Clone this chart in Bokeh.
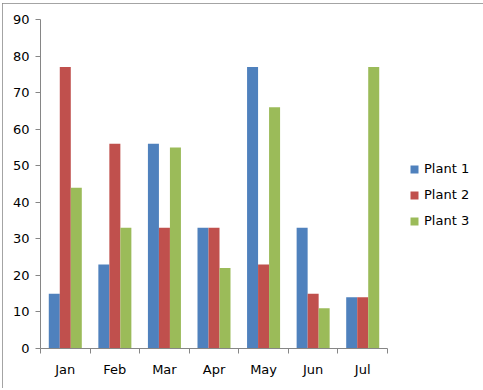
from bokeh.plotting import figure
from bokeh.models import ColumnDataSource, FixedTicker, Legend, LegendItem, Range1d
from bokeh.transform import dodge
from bokeh.embed import file_html
from bokeh.resources import INLINE

months = ["Jan", "Feb", "Mar", "Apr", "May", "Jun", "Jul"]
plant1 = [15, 23, 56, 33, 77, 33, 14]
plant2 = [77, 56, 33, 33, 23, 15, 14]
plant3 = [44, 33, 55, 22, 66, 11, 77]
series_names = ["Plant 1", "Plant 2", "Plant 3"]
colors = ["#4F81BD", "#C0504D", "#9BBB59"]
y_ticks = list(range(0, 100, 10))

xc = [i + 0.5 for i in range(len(months))]
src = ColumnDataSource(dict(x=xc, p1=plant1, p2=plant2, p3=plant3))

FONT = "DejaVu Sans"

p = figure(frame_width=347, frame_height=329,
           min_border_left=38, min_border_right=95, min_border_top=16, min_border_bottom=40,
           x_range=Range1d(0, len(months)), y_range=Range1d(0, 90),
           output_backend="svg", toolbar_location=None,
           background_fill_color="white", border_fill_color="white")
p.styles = {"outline": "1px solid #868686", "outline-offset": "-1px", "margin": "3px 0 0 2px"}
p.outline_line_color = None
p.xgrid.visible = False
p.ygrid.visible = False

bw = 0.222
renderers = []
for k, (field, col) in enumerate(zip(["p1", "p2", "p3"], colors)):
    r = p.vbar(x=dodge("x", (k - 1) * bw), top=field, width=bw, bottom=0,
               source=src, fill_color=col, line_color=None)
    renderers.append(r)

# y axis
ya = p.yaxis[0]
ya.ticker = FixedTicker(ticks=y_ticks)
ya.axis_line_color = "#868686"
ya.major_tick_line_color = "#868686"
ya.major_tick_out = 5
ya.major_tick_in = 0
ya.minor_tick_line_color = None
ya.major_label_standoff = 6
ya.major_label_text_font = FONT
ya.major_label_text_font_size = "13px"
ya.major_label_text_color = "black"

# x axis: labels at centers, ticks at boundaries (minor)
xa = p.xaxis[0]
xa.ticker = FixedTicker(ticks=xc, minor_ticks=list(range(len(months) + 1)))
xa.major_label_overrides = {x: m for x, m in zip(xc, months)}
xa.axis_line_color = "#868686"
xa.major_tick_line_color = None
xa.major_tick_out = 0
xa.major_tick_in = 0
xa.minor_tick_line_color = "#868686"
xa.minor_tick_out = 5
xa.minor_tick_in = 0
xa.major_label_standoff = 8
xa.major_label_text_font = FONT
xa.major_label_text_font_size = "13px"
xa.major_label_text_color = "black"

legend = Legend(items=[LegendItem(label=n, renderers=[r]) for n, r in zip(series_names, renderers)],
                location=(22, 120), orientation="vertical",
                glyph_width=10, glyph_height=10, label_standoff=5, spacing=11,
                padding=0, margin=0, border_line_color=None, background_fill_alpha=0,
                label_text_font=FONT, label_text_font_size="13px", label_text_color="black")
p.add_layout(legend, "right")

open("out.html", "w").write(file_html(p, INLINE))
